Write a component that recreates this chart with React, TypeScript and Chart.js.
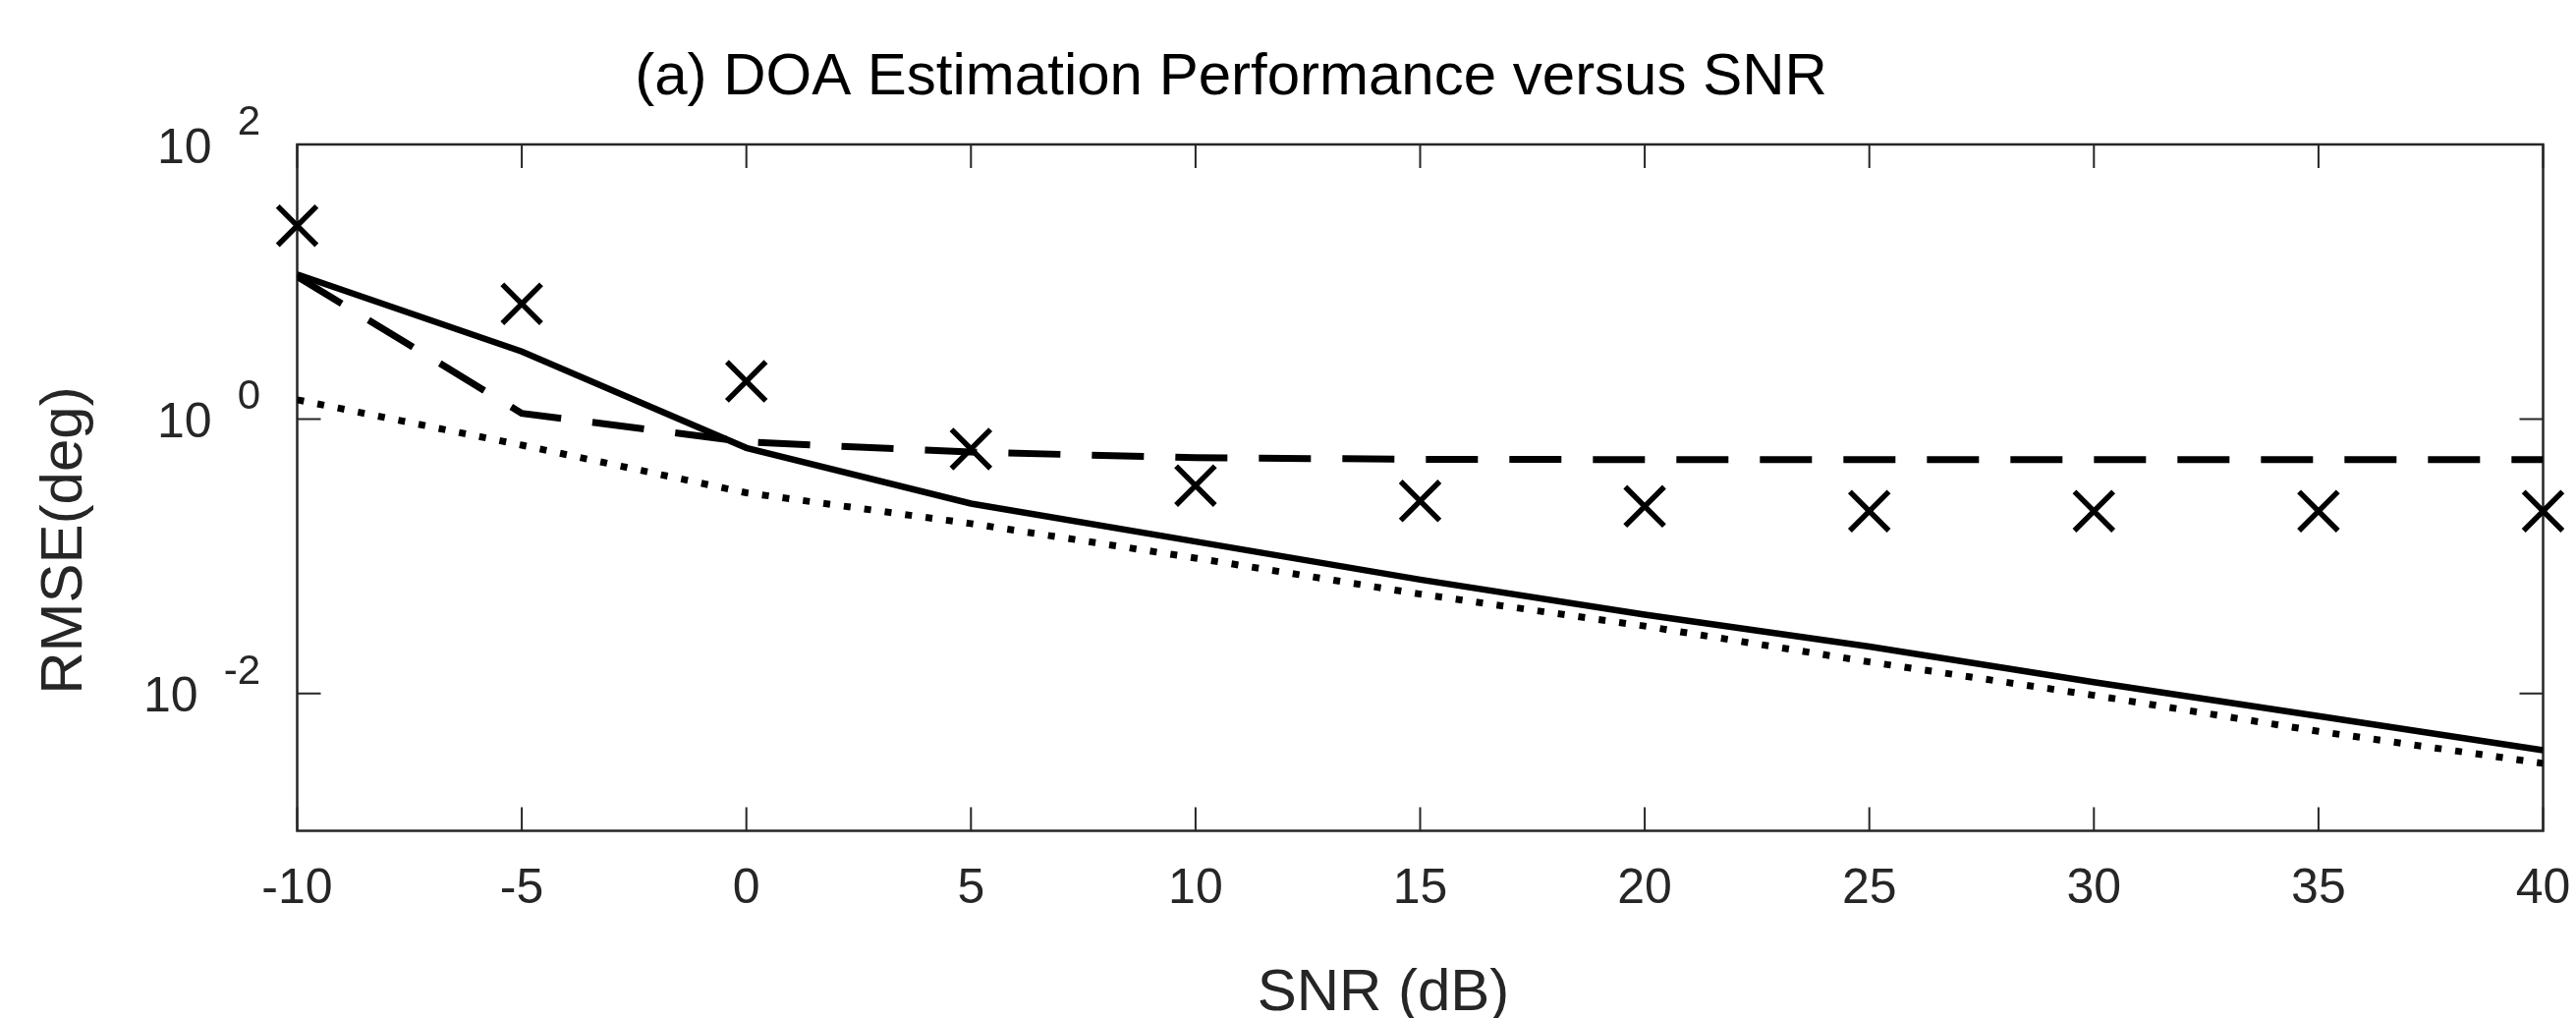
import React, { useEffect, useRef } from "react";
import { Chart, registerables } from "chart.js";

Chart.register(...registerables);

// ---- data ----
const snrDb = [-10, -5, 0, 5, 10, 15, 20, 25, 30, 35, 40];
const solidRmse = [11.3, 3.1, 0.616, 0.242, 0.128, 0.0676, 0.0376, 0.022, 0.0121, 0.00685, 0.00386];
const dashedRmse = [10.9, 1.1, 0.68, 0.574, 0.522, 0.509, 0.506, 0.505, 0.505, 0.505, 0.505];
const dottedRmse = [1.38, 0.645, 0.29, 0.173, 0.097, 0.053, 0.031, 0.017, 0.0097, 0.0053, 0.0031];
const crossRmse = [25.6, 6.9, 1.88, 0.605, 0.327, 0.253, 0.231, 0.213, 0.213, 0.213, 0.213];

const yTickExponents = [2, 0, -2];
const xMin = -10;
const xMax = 40;
const xStep = 5;
const yMin = 1e-3;
const yMax = 1e2;

const titleText = "(a) DOA Estimation Performance versus SNR";
const xLabelText = "SNR (dB)";
const yLabelText = "RMSE(deg)";

const FONT = '"Liberation Sans", Arial, Helvetica, sans-serif';
const AXIS = "#262626";
const TICK_LEN = 24;

const toPoints = (ys: number[]) => snrDb.map((x, i) => ({ x, y: ys[i] }));

const matlabAxes = {
  id: "matlabAxes",
  beforeDatasetsDraw(chart: any) {
    const { ctx, chartArea: a, scales } = chart;
    ctx.save();
    ctx.strokeStyle = AXIS;
    ctx.lineWidth = 2.5;
    ctx.strokeRect(a.left, a.top, a.right - a.left, a.bottom - a.top);
    ctx.lineWidth = 2;
    ctx.beginPath();
    for (const t of scales.x.ticks) {
      const px = scales.x.getPixelForValue(t.value);
      ctx.moveTo(px, a.bottom);
      ctx.lineTo(px, a.bottom - TICK_LEN);
      ctx.moveTo(px, a.top);
      ctx.lineTo(px, a.top + TICK_LEN);
    }
    for (const e of yTickExponents) {
      const py = scales.y.getPixelForValue(Math.pow(10, e));
      ctx.moveTo(a.left, py);
      ctx.lineTo(a.left + TICK_LEN, py);
      ctx.moveTo(a.right, py);
      ctx.lineTo(a.right - TICK_LEN, py);
    }
    ctx.stroke();
    ctx.restore();
  },
  afterDraw(chart: any) {
    const { ctx, chartArea: a, scales } = chart;
    ctx.save();
    ctx.fillStyle = AXIS;
    ctx.textBaseline = "alphabetic";

    // y tick labels: 10^e
    for (const e of yTickExponents) {
      const py = scales.y.getPixelForValue(Math.pow(10, e));
      const exp = String(e);
      ctx.font = `42px ${FONT}`;
      const supW = ctx.measureText(exp).width;
      const supX = a.left - 37.5 - supW;
      ctx.textAlign = "left";
      ctx.fillText(exp, supX, py - 10);
      ctx.font = `50px ${FONT}`;
      ctx.textAlign = "right";
      ctx.fillText("10", supX - 26, py + 18.5);
    }

    // title
    ctx.fillStyle = "#000";
    ctx.font = `60px ${FONT}`;
    ctx.textAlign = "center";
    ctx.fillText(titleText, a.left + 950.5, a.top - 51);

    // x label
    ctx.fillStyle = AXIS;
    ctx.fillText(xLabelText, a.left + 1105.5, a.bottom + 182.5);

    // y label
    ctx.translate(a.left - 219.5, a.top + 403);
    ctx.rotate(-Math.PI / 2);
    ctx.fillText(yLabelText, 0, 0);
    ctx.restore();
  },
};

export default function App() {
  const ref = useRef<HTMLCanvasElement | null>(null);

  useEffect(() => {
    document.body.style.margin = "0";
    document.body.style.overflow = "hidden";
    const canvas = ref.current;
    if (!canvas) return;
    const chart = new Chart(canvas, {
      type: "line",
      data: {
        datasets: [
          {
            label: "Cross",
            data: toPoints(crossRmse),
            showLine: false,
            pointStyle: "crossRot",
            pointRadius: 28,
            pointBorderWidth: 5.5,
            pointBorderColor: "#000",
            pointBackgroundColor: "#000",
            borderColor: "#000",
            clip: false as any,
          },
          {
            label: "Dashed",
            data: toPoints(dashedRmse),
            borderColor: "#000",
            borderWidth: 7,
            borderDash: [53, 32],
            pointRadius: 0,
            fill: false,
            tension: 0,
          },
          {
            label: "Solid",
            data: toPoints(solidRmse),
            borderColor: "#000",
            borderWidth: 6.5,
            pointRadius: 0,
            fill: false,
            tension: 0,
          },
          {
            label: "Dotted",
            data: toPoints(dottedRmse),
            borderColor: "#000",
            borderWidth: 7,
            borderDash: [7, 14],
            borderCapStyle: "butt",
            pointRadius: 0,
            fill: false,
            tension: 0,
          },
        ],
      },
      options: {
        responsive: false,
        maintainAspectRatio: false,
        devicePixelRatio: 1,
        animation: false,
        events: [],
        layout: { padding: { left: 0, right: 19.5, top: 147, bottom: 0 } },
        plugins: {
          legend: { display: false },
          title: { display: false },
          tooltip: { enabled: false },
        },
        scales: {
          x: {
            type: "linear",
            min: xMin,
            max: xMax,
            grid: { display: false, drawTicks: false },
            border: { display: false },
            ticks: {
              stepSize: xStep,
              autoSkip: false,
              maxRotation: 0,
              padding: 29.5,
              color: AXIS,
              font: { size: 50, family: FONT },
            },
            afterFit: (s: any) => {
              s.height = 190.5;
              s.paddingLeft = 0;
              s.paddingRight = 0;
            },
          },
          y: {
            type: "logarithmic",
            min: yMin,
            max: yMax,
            grid: { display: false, drawTicks: false },
            border: { display: false },
            ticks: { display: false },
            afterFit: (s: any) => {
              s.width = 302.5;
              s.paddingTop = 0;
              s.paddingBottom = 0;
            },
          },
        },
      },
      plugins: [matlabAxes],
    } as any);
    return () => chart.destroy();
  }, []);

  return (
    <div style={{ width: 2622, height: 1036, background: "#fff" }}>
      <canvas ref={ref} width={2622} height={1036} style={{ display: "block", width: 2622, height: 1036 }} />
    </div>
  );
}
